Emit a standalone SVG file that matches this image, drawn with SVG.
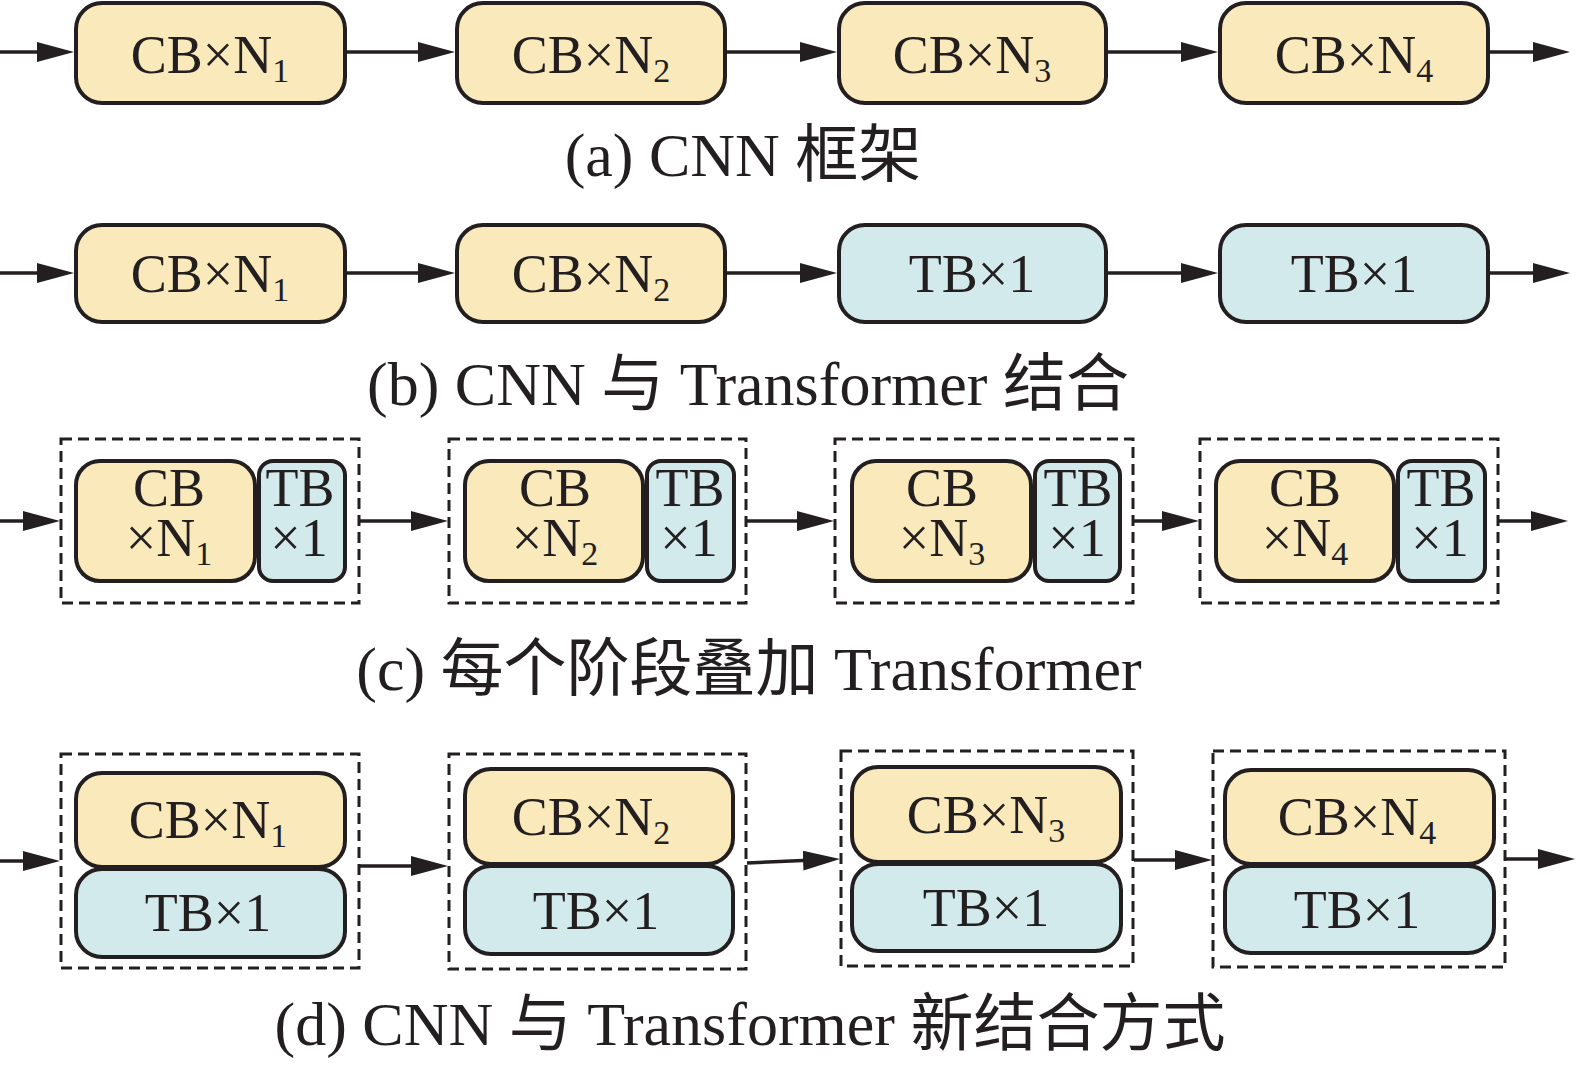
<svg xmlns="http://www.w3.org/2000/svg" width="1577" height="1066" viewBox="0 0 1577 1066">
<style>
.cb{fill:#F9E9BB;stroke:#231F20;stroke-width:4}
.tb{fill:#D2EAEC;stroke:#231F20;stroke-width:4}
.grp{fill:none;stroke:#231F20;stroke-width:3;stroke-dasharray:11 6}
.t{font-family:"Liberation Serif","Times New Roman",serif;font-size:54px;fill:#231F20;text-anchor:middle}
.cap{font-family:"Liberation Serif","Noto Sans CJK SC",serif;font-size:62px;fill:#231F20;text-anchor:middle}
.cjk{font-family:"Noto Sans CJK SC",sans-serif;font-size:63px}
.c{stroke:#231F20;stroke-width:3.5;fill:none;marker-end:url(#ah)}
</style>
<defs>
<marker id="ah" markerUnits="userSpaceOnUse" markerWidth="37" markerHeight="20" refX="29" refY="10" orient="auto"><path d="M0,0 L37,10 L0,20 Z" fill="#231F20"/></marker>
</defs>
<rect width="1577" height="1066" fill="#fff"/>

<g id="connectors">
<line class="c" x1="0" y1="52" x2="66" y2="52"/>
<line class="c" x1="347" y1="52" x2="447" y2="52"/>
<line class="c" x1="727" y1="52" x2="829" y2="52"/>
<line class="c" x1="1108" y1="52" x2="1210" y2="52"/>
<line class="c" x1="1490" y1="52" x2="1562" y2="52"/>

<line class="c" x1="0" y1="273" x2="66" y2="273"/>
<line class="c" x1="347" y1="273" x2="447" y2="273"/>
<line class="c" x1="727" y1="273" x2="829" y2="273"/>
<line class="c" x1="1108" y1="273" x2="1210" y2="273"/>
<line class="c" x1="1490" y1="273" x2="1562" y2="273"/>

<line class="c" x1="0" y1="521" x2="52" y2="521"/>
<line class="c" x1="360" y1="521" x2="440" y2="521"/>
<line class="c" x1="747" y1="521" x2="826" y2="521"/>
<line class="c" x1="1134" y1="521" x2="1191" y2="521"/>
<line class="c" x1="1499" y1="521" x2="1560" y2="521"/>

<line class="c" x1="0" y1="861" x2="52" y2="861"/>
<line class="c" x1="360" y1="866" x2="440" y2="866"/>
<line class="c" x1="747" y1="863" x2="832" y2="859.3"/>
<line class="c" x1="1134" y1="860" x2="1204" y2="860"/>
<line class="c" x1="1506" y1="859" x2="1567" y2="859"/>
</g>

<!-- Row (a) -->
<g id="a1"><rect class="cb" x="76" y="3" width="269" height="100" rx="26"/><text class="t" x="210" y="73">CB×N<tspan font-size="34" dy="9">1</tspan></text></g>
<g id="a2"><rect class="cb" x="457" y="3" width="268" height="100" rx="26"/><text class="t" x="591" y="73">CB×N<tspan font-size="34" dy="9">2</tspan></text></g>
<g id="a3"><rect class="cb" x="839" y="3" width="267" height="100" rx="26"/><text class="t" x="972" y="73">CB×N<tspan font-size="34" dy="9">3</tspan></text></g>
<g id="a4"><rect class="cb" x="1220" y="3" width="268" height="100" rx="26"/><text class="t" x="1354" y="73">CB×N<tspan font-size="34" dy="9">4</tspan></text></g>
<text id="cap-a" class="cap" x="743" y="176">(a) CNN <tspan class="cjk">框架</tspan></text>

<!-- Row (b) -->
<g id="b1"><rect class="cb" x="76" y="225" width="269" height="97" rx="26"/><text class="t" x="210" y="292">CB×N<tspan font-size="34" dy="9">1</tspan></text></g>
<g id="b2"><rect class="cb" x="457" y="225" width="268" height="97" rx="26"/><text class="t" x="591" y="292">CB×N<tspan font-size="34" dy="9">2</tspan></text></g>
<g id="b3"><rect class="tb" x="839" y="225" width="267" height="97" rx="26"/><text class="t" x="972" y="292">TB×1</text></g>
<g id="b4"><rect class="tb" x="1220" y="225" width="268" height="97" rx="26"/><text class="t" x="1354" y="292">TB×1</text></g>
<text id="cap-b" class="cap" x="748" y="405">(b) CNN <tspan class="cjk">与</tspan> Transformer <tspan class="cjk">结合</tspan></text>

<!-- Row (c) -->
<g id="c1"><rect class="grp" x="61" y="439" width="298" height="164"/>
<rect class="cb" x="76" y="461" width="179" height="120" rx="24"/><rect class="tb" x="259" y="461" width="86" height="120" rx="14"/>
<text class="t"><tspan x="169" y="506">CB</tspan><tspan x="169" y="556">×N<tspan font-size="34" dy="9">1</tspan></tspan></text>
<text class="t"><tspan x="300" y="506">TB</tspan><tspan x="299" y="556">×1</tspan></text></g>
<g id="c2"><rect class="grp" x="449" y="439" width="297" height="164"/>
<rect class="cb" x="465" y="461" width="178" height="120" rx="24"/><rect class="tb" x="647" y="461" width="87" height="120" rx="14"/>
<text class="t"><tspan x="555" y="506">CB</tspan><tspan x="555" y="556">×N<tspan font-size="34" dy="9">2</tspan></tspan></text>
<text class="t"><tspan x="690" y="506">TB</tspan><tspan x="689" y="556">×1</tspan></text></g>
<g id="c3"><rect class="grp" x="835" y="439" width="298" height="164"/>
<rect class="cb" x="852" y="461" width="179" height="120" rx="24"/><rect class="tb" x="1035" y="461" width="85" height="120" rx="14"/>
<text class="t"><tspan x="942" y="506">CB</tspan><tspan x="942" y="556">×N<tspan font-size="34" dy="9">3</tspan></tspan></text>
<text class="t"><tspan x="1078" y="506">TB</tspan><tspan x="1077" y="556">×1</tspan></text></g>
<g id="c4"><rect class="grp" x="1200" y="439" width="298" height="164"/>
<rect class="cb" x="1216" y="461" width="178" height="120" rx="24"/><rect class="tb" x="1398" y="461" width="87" height="120" rx="14"/>
<text class="t"><tspan x="1305" y="506">CB</tspan><tspan x="1305" y="556">×N<tspan font-size="34" dy="9">4</tspan></tspan></text>
<text class="t"><tspan x="1441" y="506">TB</tspan><tspan x="1440" y="556">×1</tspan></text></g>
<text id="cap-c" class="cap" x="749" y="690">(c) <tspan class="cjk">每个阶段叠加</tspan> Transformer</text>

<!-- Row (d) -->
<g id="d1"><rect class="grp" x="61" y="754" width="298" height="214"/>
<rect class="tb" x="76" y="869" width="269" height="88" rx="26"/><rect class="cb" x="76" y="773" width="269" height="94" rx="26"/>
<text class="t" x="208" y="838">CB×N<tspan font-size="34" dy="9">1</tspan></text><text class="t" x="208" y="931">TB×1</text></g>
<g id="d2"><rect class="grp" x="449" y="754" width="297" height="215"/>
<rect class="tb" x="465" y="866" width="268" height="88" rx="26"/><rect class="cb" x="465" y="769" width="268" height="95" rx="26"/>
<text class="t" x="591" y="835">CB×N<tspan font-size="34" dy="9">2</tspan></text><text class="t" x="596" y="929">TB×1</text></g>
<g id="d3"><rect class="grp" x="841" y="751" width="292" height="215"/>
<rect class="tb" x="852" y="864" width="269" height="87" rx="26"/><rect class="cb" x="852" y="767" width="269" height="95" rx="26"/>
<text class="t" x="986" y="833">CB×N<tspan font-size="34" dy="9">3</tspan></text><text class="t" x="986" y="926">TB×1</text></g>
<g id="d4"><rect class="grp" x="1213" y="751" width="292" height="216"/>
<rect class="tb" x="1225" y="866" width="269" height="87" rx="26"/><rect class="cb" x="1225" y="770" width="269" height="94" rx="26"/>
<text class="t" x="1357" y="835">CB×N<tspan font-size="34" dy="9">4</tspan></text><text class="t" x="1357" y="928">TB×1</text></g>
<text id="cap-d" class="cap" x="750" y="1045">(d) CNN <tspan class="cjk">与</tspan> Transformer <tspan class="cjk">新结合方式</tspan></text>
</svg>
